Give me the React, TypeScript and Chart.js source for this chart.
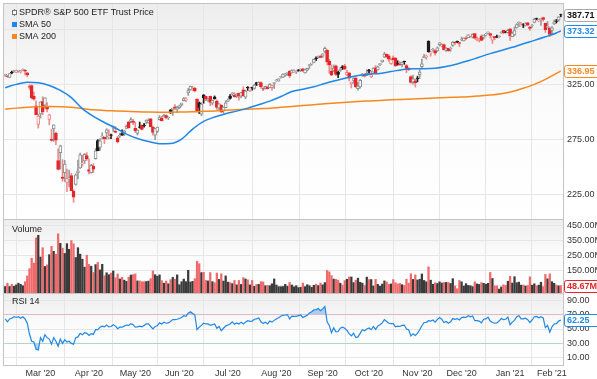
import React, { useEffect, useRef } from 'react';
import { Chart, registerables } from 'chart.js';

Chart.register(...registerables);

const FONT = '"Liberation Sans", Arial, Helvetica, sans-serif';

// Trading days Feb 6 2020 .. Feb 5 2021 (index 0..252)
const monthTickIdx = [16, 38, 59, 79, 101, 123, 144, 165, 187, 207, 229, 248];
const monthLabels = ["Mar '20", "Apr '20", "May '20", "Jun '20", "Jul '20", "Aug '20", "Sep '20", "Oct '20", "Nov '20", "Dec '20", "Jan '21", "Feb '21"];

const opens = [
  333.3, 332.8, 331.2, 336.2, 336.8, 335.9, 337.5, 336.5, 337.8, 337.7, 335.5, 323.1, 323.9, 314.2, 305.5, 288.7,
  298.2, 309.5, 306.1, 305.0, 293.2, 275.3, 284.6, 280.7, 256.0, 263.1, 241.2, 245.0, 236.3, 239.3, 242.5, 228.2, 234.4, 244.9, 249.5, 253.3, 255.7, 260.6,
  248.0, 245.2, 250.8, 257.8, 274.2, 268.0, 277.6, 277.1, 281.0, 277.6, 279.2, 285.4, 282.6, 276.7, 278.4, 280.5, 280.7, 285.1, 291.0, 291.5, 291.7,
  285.3, 280.7, 286.6, 288.0, 287.8, 291.1, 290.3, 293.8, 286.1, 279.0, 282.4, 293.1, 294.4, 295.8, 296.8, 294.6, 301.9, 302.1, 304.7, 302.5,
  303.6, 306.6, 310.2, 311.1, 317.2, 320.2, 320.3, 321.4, 311.5, 308.2, 298.0, 315.5, 314.1, 310.0, 314.2, 308.0, 313.5, 309.8, 303.5, 306.2, 301.4, 304.0,
  309.6, 314.2, 316.4, 315.4, 314.6, 316.8, 314.3, 320.1, 313.3, 322.4, 319.8, 322.4, 321.4, 326.5, 324.6, 326.5, 321.0, 321.6, 322.4, 322.1, 321.9, 325.9,
  328.3, 327.9, 331.5, 331.5, 333.3, 335.1, 336.8, 335.4, 336.6, 336.4, 337.9, 338.3, 339.1, 335.4, 337.9, 342.1, 343.5, 344.8, 348.5, 349.4, 350.4,
  350.4, 354.7, 355.9, 346.1, 336.7, 337.6, 341.8, 335.8, 337.5, 341.1, 341.5, 333.6, 335.4, 325.7, 328.6, 330.9, 321.2, 322.6, 333.2, 334.0, 333.1,
  337.7, 331.7, 336.1, 339.9, 338.1, 342.9, 345.6, 349.6, 352.3, 350.8, 343.7, 349.0, 348.7, 343.5, 343.3, 343.0, 345.9, 342.1, 339.8, 332.1, 326.9, 328.3,
  330.2, 333.7, 340.9, 349.2, 349.9, 364.0, 353.5, 356.4, 355.6, 355.3, 361.0, 360.0, 360.9, 355.6, 357.5, 357.3, 360.2, 363.1, 363.8, 362.8,
  365.6, 364.4, 366.7, 367.3, 369.0, 367.7, 370.9, 365.4, 364.9, 368.6, 367.4, 369.8, 371.9, 371.0, 365.0, 368.2, 368.3, 368.1, 371.7, 373.8, 372.3, 371.8,
  375.3, 368.1, 369.7, 376.1, 380.6, 377.9, 378.9, 378.7, 380.6, 376.7, 378.3, 381.1, 384.5, 382.3, 383.7, 385.4, 380.2, 376.4, 375.6,
  373.7, 379.7, 382.4, 383.0, 388.2,
];

const highs = [
  334.2, 333.0, 334.7, 337.0, 337.6, 338.0, 337.7, 337.7, 339.1, 338.6, 335.8, 324.7, 324.6, 318.1, 310.0, 297.9,
  309.2, 313.8, 313.1, 308.5, 298.0, 284.2, 288.5, 281.9, 266.7, 270.0, 256.9, 256.2, 248.4, 247.4, 244.5, 229.7, 244.1, 256.4, 262.8, 260.8, 262.4, 263.3,
  257.7, 252.7, 253.3, 267.0, 275.0, 276.0, 281.2, 277.5, 284.9, 283.9, 280.0, 287.3, 286.8, 278.0, 281.0, 283.9, 283.7, 288.3, 291.4, 294.9, 293.3,
  290.7, 283.9, 290.9, 288.5, 289.8, 293.0, 294.0, 294.2, 287.2, 285.1, 286.3, 296.8, 296.2, 297.9, 297.7, 295.6, 302.2, 303.6, 306.8, 305.0,
  306.2, 308.1, 313.2, 313.0, 321.3, 323.4, 323.3, 322.4, 312.2, 309.1, 308.3, 315.6, 314.4, 312.3, 314.4, 310.9, 314.5, 311.0, 307.6, 306.4, 304.6, 310.2,
  311.9, 315.7, 317.7, 317.5, 316.5, 317.1, 317.9, 322.7, 319.8, 323.0, 320.9, 322.6, 325.1, 326.9, 327.2, 327.2, 322.0, 323.4, 323.4, 325.7, 324.4, 326.6,
  329.6, 330.1, 332.4, 334.5, 334.9, 335.8, 337.5, 338.3, 338.3, 337.4, 338.3, 339.1, 339.6, 338.8, 339.7, 343.0, 344.2, 347.9, 349.9, 350.7, 351.3,
  352.7, 358.8, 356.4, 347.8, 342.6, 342.5, 342.5, 337.0, 340.4, 342.0, 343.1, 337.7, 335.5, 327.1, 330.9, 331.0, 326.8, 329.6, 335.0, 334.8, 338.3,
  338.7, 337.0, 340.0, 342.0, 341.6, 343.9, 347.0, 354.0, 352.5, 351.9, 348.0, 350.8, 349.3, 346.4, 345.7, 345.2, 346.0, 343.0, 340.1, 332.8, 333.4, 329.7,
  332.4, 338.3, 347.9, 352.2, 351.5, 364.4, 355.2, 357.6, 356.4, 358.9, 362.8, 361.9, 361.5, 358.2, 357.7, 358.8, 363.8, 363.2, 364.2, 363.1,
  367.7, 367.0, 368.2, 369.9, 369.6, 370.8, 371.1, 367.9, 366.7, 369.8, 369.6, 371.2, 372.5, 371.2, 368.0, 368.3, 369.6, 369.0, 372.6, 374.0, 373.1, 374.7,
  375.45, 372.5, 377.0, 379.9, 381.5, 380.6, 379.9, 380.9, 381.1, 377.6, 379.2, 384.8, 384.95, 384.1, 384.8, 385.85, 380.3, 381.9, 376.7,
  377.3, 383.2, 383.7, 386.2, 388.5,
];

const lows = [
  332.2, 331.2, 331.2, 334.6, 336.2, 335.6, 336.0, 335.2, 337.5, 333.6, 331.8, 320.4, 311.7, 310.7, 297.5, 285.5,
  294.5, 297.6, 303.3, 300.0, 288.4, 273.5, 273.5, 270.4, 247.7, 248.4, 237.4, 237.1, 228.0, 232.2, 228.8, 218.3, 233.8, 239.4, 249.0, 251.1, 253.5, 256.2,
  243.9, 244.6, 245.2, 257.3, 264.9, 265.3, 275.5, 271.4, 275.5, 275.5, 275.8, 282.4, 281.4, 272.0, 276.9, 278.9, 278.5, 284.8, 285.4, 290.4, 288.6,
  281.5, 279.1, 285.4, 283.8, 286.3, 289.2, 289.9, 286.5, 279.0, 274.9, 281.3, 292.7, 292.0, 295.6, 293.7, 293.1, 298.7, 296.9, 302.2, 299.5,
  303.1, 305.1, 309.9, 309.1, 314.9, 319.6, 319.4, 318.2, 300.0, 298.6, 296.7, 307.9, 310.3, 309.5, 305.6, 306.5, 311.6, 302.3, 301.2, 299.4, 298.9, 303.8,
  309.1, 311.5, 315.0, 313.4, 313.0, 310.7, 312.8, 314.1, 312.0, 319.5, 318.3, 319.7, 320.6, 323.9, 324.5, 321.5, 319.2, 320.8, 320.8, 322.0, 319.8, 321.3,
  327.7, 327.9, 330.7, 331.1, 332.2, 333.0, 331.0, 335.2, 335.9, 334.7, 336.9, 336.6, 336.6, 335.2, 337.1, 339.5, 342.3, 344.7, 346.5, 348.7, 349.1,
  349.2, 353.4, 342.6, 334.9, 332.9, 336.6, 332.9, 331.0, 336.6, 338.5, 338.5, 333.0, 328.0, 321.7, 325.9, 322.1, 319.8, 321.6, 332.2, 331.6, 332.9,
  335.0, 331.2, 335.95, 334.4, 338.0, 341.8, 344.9, 349.1, 349.1, 345.7, 343.1, 347.1, 341.0, 342.4, 342.2, 340.7, 343.1, 335.6, 337.5, 326.1, 325.1, 322.6,
  327.2, 330.3, 339.6, 348.9, 347.7, 354.1, 350.5, 355.1, 351.3, 354.7, 359.6, 358.8, 356.2, 354.7, 355.1, 354.9, 359.3, 361.0, 362.6, 359.2,
  364.4, 364.2, 365.5, 367.2, 367.7, 367.0, 366.0, 364.4, 363.3, 364.5, 365.9, 368.7, 370.6, 367.0, 362.0, 365.3, 367.2, 367.5, 371.1, 370.8, 371.6, 371.2,
  364.8, 368.05, 369.1, 375.9, 377.1, 377.7, 376.4, 377.8, 378.1, 373.7, 376.4, 380.7, 383.3, 381.8, 378.4, 382.25, 372.0, 375.9, 368.3,
  370.4, 379.1, 380.5, 382.0, 386.1,
];

const closes = [
  334.0, 332.2, 334.7, 335.3, 337.4, 337.1, 337.6, 336.7, 338.3, 337.0, 333.5, 322.4, 312.7, 311.5, 297.5, 296.3,
  309.1, 300.2, 312.9, 302.5, 297.5, 274.2, 288.4, 274.4, 248.1, 269.3, 239.9, 252.8, 240.0, 240.5, 228.8, 223.0, 243.2, 246.8, 261.2, 253.4, 261.7, 257.8,
  246.2, 251.8, 248.2, 264.9, 265.1, 274.0, 278.2, 275.7, 283.8, 277.8, 279.1, 286.6, 281.6, 273.0, 279.1, 279.1, 283.0, 287.1, 285.7, 293.2, 290.5,
  282.8, 283.6, 286.2, 284.3, 287.7, 292.4, 292.5, 286.7, 281.6, 285.0, 286.3, 295.0, 292.0, 296.9, 294.9, 295.4, 299.1, 303.5, 303.4, 304.3,
  305.6, 308.1, 312.2, 311.4, 319.3, 323.2, 320.8, 319.0, 300.6, 304.2, 307.1, 313.0, 311.7, 311.8, 308.6, 310.6, 312.1, 304.1, 307.4, 300.1, 304.5, 308.4,
  310.5, 312.2, 317.1, 313.8, 316.2, 314.4, 317.6, 314.8, 318.9, 321.9, 320.8, 321.7, 324.3, 325.0, 326.9, 323.0, 320.9, 323.2, 321.2, 325.1, 324.0, 326.5,
  328.8, 330.1, 332.1, 334.3, 334.6, 335.6, 332.8, 337.4, 336.8, 336.8, 337.9, 338.6, 337.2, 338.3, 339.5, 342.9, 344.1, 347.6, 348.3, 350.6, 349.3,
  352.6, 357.7, 345.4, 342.6, 333.2, 339.8, 333.9, 334.1, 338.5, 340.2, 338.8, 335.8, 330.7, 327.0, 330.3, 322.6, 323.5, 328.7, 334.2, 332.4, 334.9,
  337.0, 333.8, 339.8, 334.9, 340.8, 343.8, 346.9, 352.4, 350.1, 347.9, 347.5, 347.3, 342.0, 343.4, 342.7, 344.6, 345.8, 339.4, 338.2, 326.7, 330.0, 326.5,
  330.2, 336.0, 343.5, 350.3, 350.2, 354.6, 354.0, 356.7, 353.2, 358.1, 362.6, 360.6, 356.3, 357.8, 355.3, 357.5, 363.2, 362.7, 363.7, 362.1,
  366.0, 366.8, 366.7, 369.85, 369.1, 370.2, 366.85, 366.7, 366.3, 364.7, 369.6, 370.2, 372.2, 369.2, 367.9, 367.2, 367.6, 369.0, 372.2, 371.5, 372.0, 373.9,
  368.8, 371.3, 373.6, 379.1, 381.3, 378.7, 378.8, 379.8, 378.5, 375.7, 378.65, 383.9, 384.2, 382.9, 384.4, 383.8, 374.4, 377.6, 370.1,
  376.2, 381.55, 381.85, 386.2, 387.71,
];

// volume in millions
const volumes = [
  43, 65, 43, 57, 44, 54, 65, 57, 48, 75, 113, 161, 230, 198, 365, 382,
  238, 300, 176, 186, 254, 309, 276, 256, 392, 329, 297, 262, 327, 289, 347, 326, 235, 300, 257, 224, 171, 250,
  189, 177, 136, 188, 202, 153, 190, 114, 134, 121, 132, 146, 101, 126, 93, 104, 85, 77, 105, 119, 122,
  126, 80, 80, 75, 75, 76, 79, 95, 146, 121, 111, 120, 82, 65, 79, 61, 88, 103, 91, 120,
  55, 75, 92, 75, 150, 73, 77, 95, 210, 194, 135, 137, 83, 80, 135, 75, 68, 132, 90, 127, 79, 113,
  72, 69, 62, 83, 54, 83, 57, 102, 93, 87, 54, 83, 44, 57, 57, 75, 73, 48, 49, 48, 61, 93,
  53, 42, 42, 43, 57, 45, 70, 53, 41, 48, 36, 38, 66, 42, 55, 48, 38, 51, 58, 49, 66,
  54, 69, 149, 140, 115, 92, 90, 85, 65, 52, 82, 91, 106, 106, 69, 85, 98, 71, 65, 49, 105,
  89, 89, 46, 90, 57, 45, 59, 80, 73, 57, 60, 89, 68, 60, 63, 55, 49, 91, 65, 127, 90, 120,
  86, 91, 126, 83, 74, 173, 85, 58, 68, 63, 74, 66, 70, 70, 70, 63, 95, 46, 28, 83,
  74, 46, 62, 50, 48, 42, 74, 60, 57, 69, 64, 58, 64, 136, 96, 47, 47, 26, 40, 54, 50, 78,
  110, 66, 108, 68, 72, 52, 53, 46, 49, 107, 52, 61, 47, 52, 71, 42, 123, 94, 126,
  75, 64, 52, 47, 48.67,
];

const rsi14 = [
  64, 60, 64, 65, 67, 66, 67, 65, 67, 64, 58, 43, 33, 32, 22, 21,
  38, 33, 42, 38, 36, 29, 38, 33, 26, 36, 30, 35, 32, 33, 30, 28.8, 38, 39, 44, 42, 45, 44,
  41, 43.5, 42.5, 49, 49, 52.5, 54, 53, 55.5, 53, 53.5, 56, 54, 50.5, 52.5, 52.5, 54, 55.5, 55, 57.5, 56,
  52.5, 53, 54, 53, 55, 57, 57, 53.5, 50.2, 53.5, 54.5, 58.5, 57, 59.5, 58, 58.5, 60.5, 63, 63, 63.5,
  64.5, 66, 68.5, 67.5, 72, 74, 71.5, 69.5, 49, 52.5, 55, 58, 57, 57, 55, 56, 57, 51, 53.5, 47.5, 51, 54,
  55.5, 57, 60, 56.5, 58.5, 57, 59.5, 57, 59.5, 61.5, 60.5, 61, 63.5, 64, 65.3, 60, 57.5, 59.5, 57, 61, 59.5, 62,
  64, 65.5, 67.6, 69, 69.4, 70, 64, 68, 67.5, 67.5, 68.5, 69.4, 66, 67.5, 69, 72.2, 74, 76.5, 77, 78.5, 75.5,
  78, 81.3, 60, 55, 44.7, 51.6, 46, 46.5, 51, 52.5, 51, 48, 43.5, 40.5, 44, 38, 39, 44, 49, 47.5, 50,
  51.5, 49, 53.5, 49.5, 54, 56, 58.5, 63, 60.5, 58, 57.5, 57.5, 53, 54, 53.5, 55, 55.5, 50, 49, 40.5, 43.5, 41,
  44, 49, 54.5, 59, 59, 61.5, 61, 62.5, 59.5, 63, 66, 63.5, 59, 60.5, 58, 60, 64.5, 63.5, 64.5, 62.5,
  66, 66.5, 66, 68.5, 67, 68, 61.5, 61.5, 61, 58.5, 63.5, 64, 66.5, 61, 59, 58, 58.5, 61, 64.5, 63, 63.5, 66.5,
  56, 59.5, 62, 67, 68.5, 64, 64, 65, 63, 59, 62.5, 67, 67.5, 65.5, 67, 65.5, 52, 55, 45.5,
  53, 57, 57.5, 61, 62.25,
];

// moving averages, read at every 5th trading day
const smaIdx = [0, 5, 10, 15, 20, 25, 30, 35, 40, 45, 50, 55, 60, 65, 70, 75, 80, 85, 90, 95, 100, 105, 110, 115, 120, 125, 130, 135, 140, 145, 150, 155, 160, 165, 170, 175, 180, 185, 190, 195, 200, 205, 210, 215, 220, 225, 230, 235, 240, 245, 250, 252];
const sma50 = [322, 325, 327, 326.5, 324, 319.5, 313, 303, 296, 290.5, 285.5, 280, 276, 273.3, 271.3, 271.5, 275.5, 284.5, 291.5, 295.5, 298.5, 300.8, 303.5, 306.6, 309.8, 314, 318.5, 320.6, 322.8, 325.8, 328.5, 331, 333, 334.2, 334.9, 336.6, 338.3, 339.2, 339.2, 339.6, 341.2, 343.5, 346.3, 349.6, 352.8, 355.6, 358.5, 361.8, 364.8, 368, 371.5, 373.32];
const sma200 = [302.5, 303.5, 304.2, 304.7, 305, 304.8, 304.2, 303, 302, 301.4, 301, 300.6, 300.2, 299.9, 299.8, 299.8, 300, 300.2, 300.6, 301, 301.5, 302, 302.5, 303, 303.4, 304.2, 305, 305.8, 306.6, 307.5, 308.2, 308.9, 309.5, 310, 310.5, 311, 311.4, 311.8, 312.3, 312.7, 313, 313.4, 313.8, 314.5, 315.3, 316.5, 318.5, 321.5, 325, 329.5, 335, 336.95];

const priceTicks = [225, 275, 325, 375];
const volumeTicks = [50, 150, 250, 350, 450];
const rsiTicks = [10, 30, 50, 70, 90];

const BLUE = '#1f87e5';
const ORANGE = '#f7881f';
const RED = '#e52629';
const DARK = '#1c1c1c';

export default function App() {
  const ref = useRef<HTMLCanvasElement>(null);

  useEffect(() => {
    const canvas = ref.current;
    if (!canvas) return;
    Chart.defaults.font.family = FONT;
    Chart.defaults.font.size = 9;
    Chart.defaults.color = '#333';

    const up = (i: number) => i === 0 || closes[i] >= closes[i - 1];
    const hollow = (i: number) => closes[i] > opens[i];

    const wickData = lows.map((l, i) => ({ x: i, y: [l, highs[i]] }));
    const bodyData = opens.map((o, i) => {
      let lo = Math.min(o, closes[i]);
      let hi = Math.max(o, closes[i]);
      if (hi - lo < 0.5) {
        const m = (hi + lo) / 2;
        lo = m - 0.25;
        hi = m + 0.25;
      }
      return { x: i, y: [lo, hi] };
    });
    const bodyFill = opens.map((_, i) => (hollow(i) ? '#ffffff' : up(i) ? DARK : RED));
    const bodyBorder = opens.map((_, i) => (up(i) ? (hollow(i) ? '#8e8e8e' : DARK) : hollow(i) ? '#f08080' : RED));
    const wickColor = opens.map((_, i) => (up(i) ? (hollow(i) ? '#9a9a9a' : DARK) : '#f08a8a'));
    const volColor = opens.map((o, i) => (closes[i] < o ? '#f0696b' : '#3a3a3a'));
    const volData = volumes.map((v, i) => ({ x: i, y: v }));
    const rsiData = rsi14.map((v, i) => ({ x: i, y: v }));
    const sma50Data = smaIdx.map((x, k) => ({ x, y: sma50[k] }));
    const sma200Data = smaIdx.map((x, k) => ({ x, y: sma200[k] }));

    const zeroPad = (s: any) => {
      s.paddingTop = 0;
      s.paddingBottom = 0;
      s.paddingLeft = 0;
      s.paddingRight = 0;
    };

    const decor = {
      id: 'decor',
      beforeDraw(chart: any) {
        const { ctx, chartArea } = chart;
        const ids = ['y', 'yv', 'yr'];
        ctx.save();
        ids.forEach((id) => {
          const s = chart.scales[id];
          const g = ctx.createLinearGradient(0, s.top, 0, s.bottom);
          g.addColorStop(0, '#ededed');
          g.addColorStop(0.45, '#fbfbfb');
          g.addColorStop(1, '#ffffff');
          ctx.fillStyle = g;
          ctx.fillRect(chartArea.left, s.top, chartArea.right - chartArea.left, s.bottom - s.top);
        });
        ctx.restore();
      },
      afterDraw(chart: any) {
        const { ctx, chartArea } = chart;
        const sy = chart.scales.y;
        const sv = chart.scales.yv;
        const sr = chart.scales.yr;
        ctx.save();
        // frame & separators
        ctx.strokeStyle = '#c4c4c4';
        ctx.lineWidth = 1;
        ctx.beginPath();
        ctx.moveTo(chartArea.left + 0.5, chartArea.top);
        ctx.lineTo(chartArea.left + 0.5, chartArea.bottom);
        ctx.moveTo(chartArea.left, Math.round(sv.top) + 0.5);
        ctx.lineTo(chartArea.right, Math.round(sv.top) + 0.5);
        ctx.moveTo(chartArea.left, Math.round(sr.top) + 0.5);
        ctx.lineTo(chartArea.right, Math.round(sr.top) + 0.5);
        ctx.moveTo(chartArea.left, chartArea.top + 0.5);
        ctx.lineTo(chartArea.right, chartArea.top + 0.5);
        ctx.stroke();

        // legend
        ctx.font = `9px ${FONT}`;
        ctx.textBaseline = 'middle';
        ctx.textAlign = 'left';
        ctx.fillStyle = '#222';
        ctx.strokeStyle = '#777';
        ctx.beginPath();
        ctx.moveTo(14.5, 9);
        ctx.lineTo(14.5, 16);
        ctx.stroke();
        ctx.fillStyle = '#fff';
        ctx.fillRect(12.5, 10.5, 4, 4);
        ctx.strokeRect(12.5, 10.5, 4, 4);
        ctx.fillStyle = '#222';
        ctx.fillText('SPDR® S&P 500 ETF Trust Price', 19, 12.5);
        ctx.fillStyle = BLUE;
        ctx.fillRect(12, 22, 5, 5);
        ctx.fillStyle = '#222';
        ctx.fillText('SMA 50', 19, 24.5);
        ctx.fillStyle = ORANGE;
        ctx.fillRect(12, 34, 5, 5);
        ctx.fillStyle = '#222';
        ctx.fillText('SMA 200', 19, 37);

        // panel titles
        ctx.fillText('Volume', 12, sv.top + 11);
        ctx.fillText('RSI 14', 12, sr.top + 9);

        // value boxes
        const box = (y: number, text: string, border: string, color: string) => {
          const x = 564;
          const h = 12;
          const w = 36;
          const top = Math.round(y - h / 2) + 0.5;
          ctx.fillStyle = '#fff';
          ctx.strokeStyle = border;
          ctx.lineWidth = 1;
          ctx.beginPath();
          ctx.roundRect(x + 0.5, top, w, h, 2);
          ctx.fill();
          ctx.stroke();
          ctx.font = `bold 9px ${FONT}`;
          ctx.fillStyle = color;
          ctx.textBaseline = 'middle';
          ctx.fillText(text, x + 3, top + h / 2 + 0.5);
        };
        const last = closes.length - 1;
        box(sy.getPixelForValue(closes[last]), closes[last].toFixed(2), '#a8a8a8', '#111');
        box(sy.getPixelForValue(sma50[sma50.length - 1]), sma50[sma50.length - 1].toFixed(2), BLUE, BLUE);
        box(sy.getPixelForValue(sma200[sma200.length - 1]), sma200[sma200.length - 1].toFixed(2), ORANGE, ORANGE);
        box(sv.getPixelForValue(volumes[last]), volumes[last].toFixed(2) + 'M', RED, RED);
        box(sr.getPixelForValue(rsi14[last]), rsi14[last].toFixed(2), BLUE, BLUE);
        ctx.restore();
      },
    };

    const yTicks = (fmt: (v: number) => string) => ({
      padding: 4,
      autoSkip: false,
      color: '#333',
      font: { size: 9 },
      callback: (v: any) => fmt(Number(v)),
    });

    const chart = new Chart(canvas, {
      type: 'bar',
      data: {
        datasets: [
          {
            type: 'line',
            label: 'SMA 50',
            data: sma50Data,
            yAxisID: 'y',
            borderColor: BLUE,
            borderWidth: 1.5,
            pointRadius: 0,
            cubicInterpolationMode: 'monotone',
            order: 1,
          },
          {
            type: 'line',
            label: 'SMA 200',
            data: sma200Data,
            yAxisID: 'y',
            borderColor: ORANGE,
            borderWidth: 1.5,
            pointRadius: 0,
            cubicInterpolationMode: 'monotone',
            order: 2,
          },
          {
            type: 'bar',
            label: 'body',
            data: bodyData,
            yAxisID: 'y',
            backgroundColor: bodyFill,
            borderColor: bodyBorder,
            borderWidth: 1,
            borderSkipped: false,
            barThickness: 3,
            grouped: false,
            order: 3,
          },
          {
            type: 'bar',
            label: 'wick',
            data: wickData,
            yAxisID: 'y',
            backgroundColor: wickColor,
            borderWidth: 0,
            barThickness: 1,
            grouped: false,
            order: 4,
          },
          {
            type: 'bar',
            label: 'Volume',
            data: volData,
            yAxisID: 'yv',
            backgroundColor: volColor,
            borderWidth: 0,
            barThickness: 1.6,
            grouped: false,
            order: 5,
          },
          {
            type: 'line',
            label: 'RSI 14',
            data: rsiData,
            yAxisID: 'yr',
            borderColor: BLUE,
            borderWidth: 1.2,
            pointRadius: 0,
            tension: 0,
            fill: { target: { value: 70 }, above: 'rgba(31,135,229,0.35)', below: 'rgba(0,0,0,0)' },
            order: 1,
          },
          {
            type: 'line',
            label: 'RSI low fill',
            data: rsiData,
            yAxisID: 'yr',
            borderColor: 'rgba(0,0,0,0)',
            borderWidth: 0,
            pointRadius: 0,
            tension: 0,
            fill: { target: { value: 30 }, above: 'rgba(0,0,0,0)', below: 'rgba(31,135,229,0.35)' },
            order: 2,
          },
        ] as any,
      },
      options: {
        responsive: false,
        animation: false,
        events: [],
        devicePixelRatio: 1,
        layout: { padding: { top: 3, left: 3, right: 0, bottom: 0 } },
        plugins: { legend: { display: false }, tooltip: { enabled: false } },
        scales: {
          x: {
            type: 'linear',
            min: -1,
            max: 253,
            offset: false,
            position: 'bottom',
            grid: { color: '#e6e6e6', drawTicks: false },
            border: { display: true, color: '#c4c4c4' },
            afterBuildTicks: (s: any) => {
              s.ticks = monthTickIdx.map((v) => ({ value: v }));
            },
            afterFit: (s: any) => {
              s.height = 14;
              zeroPad(s);
            },
            ticks: {
              autoSkip: false,
              maxRotation: 0,
              padding: 3,
              color: '#333',
              font: { size: 9 },
              callback: (v: any) => {
                const k = monthTickIdx.indexOf(Number(v));
                return k >= 0 ? monthLabels[k] : '';
              },
            },
          },
          y: {
            type: 'linear',
            position: 'right',
            stack: 'panels',
            stackWeight: 216,
            min: 203.2,
            max: 398.6,
            offset: false,
            grid: { color: '#e6e6e6', drawTicks: false },
            border: { display: true, color: '#c4c4c4' },
            afterBuildTicks: (s: any) => {
              s.ticks = priceTicks.map((v) => ({ value: v }));
            },
            afterFit: (s: any) => {
              s.width = 34;
              zeroPad(s);
            },
            ticks: yTicks((v) => (v === 375 ? '' : v.toFixed(2))),
          },
          yv: {
            type: 'linear',
            position: 'right',
            stack: 'panels',
            stackWeight: 74,
            min: 0,
            max: 490,
            offset: false,
            grid: { color: '#e6e6e6', drawTicks: false },
            border: { display: true, color: '#c4c4c4' },
            afterBuildTicks: (s: any) => {
              s.ticks = volumeTicks.map((v) => ({ value: v }));
            },
            afterFit: (s: any) => {
              s.width = 34;
              zeroPad(s);
            },
            ticks: yTicks((v) => (v === 50 ? '' : v.toFixed(2) + 'M')),
          },
          yr: {
            type: 'linear',
            position: 'right',
            stack: 'panels',
            stackWeight: 72,
            min: 0,
            max: 100,
            offset: false,
            grid: {
              drawTicks: false,
              color: (c: any) => {
                const v = c.tick && c.tick.value;
                if (v === 70) return '#eec0c0';
                if (v === 30) return '#bfe0bf';
                return '#e6e6e6';
              },
            },
            border: { display: true, color: '#c4c4c4' },
            afterBuildTicks: (s: any) => {
              s.ticks = rsiTicks.map((v) => ({ value: v }));
            },
            afterFit: (s: any) => {
              s.width = 34;
              zeroPad(s);
            },
            ticks: yTicks((v) => v.toFixed(2)),
          },
        },
      } as any,
      plugins: [decor],
    });

    return () => chart.destroy();
  }, []);

  return (
    <div style={{ position: 'fixed', left: 0, top: 0, width: 597, height: 379, background: '#fff' }}>
      <canvas ref={ref} width={597} height={379} style={{ display: 'block', width: 597, height: 379 }} />
    </div>
  );
}
